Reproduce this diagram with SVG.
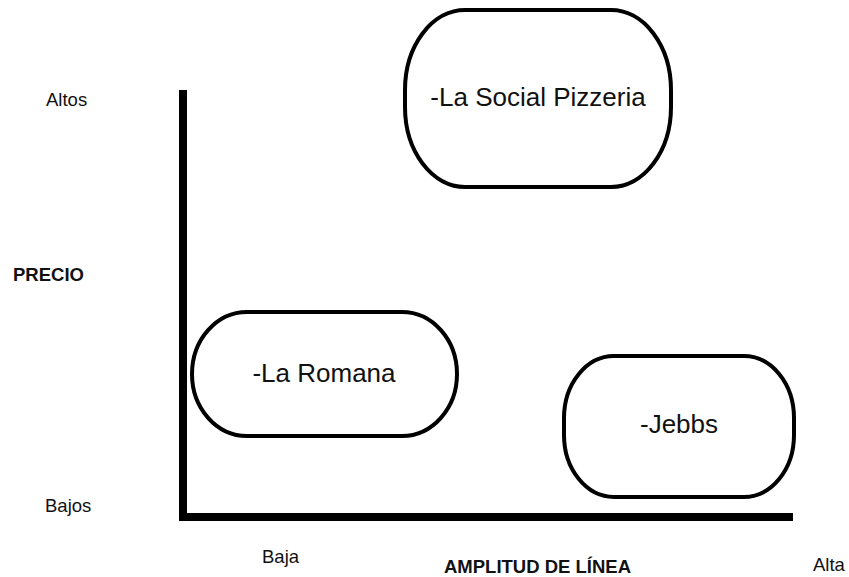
<svg xmlns="http://www.w3.org/2000/svg" width="849" height="577" viewBox="0 0 849 577">
<style>
.node{fill:#fff;stroke:#000;stroke-width:4}
.big{font-family:"Liberation Sans",Arial,sans-serif;font-size:26px;fill:#111;text-anchor:middle}
.lbl{font-family:"Liberation Sans",Arial,sans-serif;font-size:18.5px;fill:#111}
.bold{font-weight:bold}
.axis{fill:#000}
</style>
<rect width="849" height="577" fill="#fff"/>
<g id="axes">
<rect class="axis" x="179" y="90" width="8" height="431"/>
<rect class="axis" x="179" y="513" width="614" height="8"/>
</g>
<g id="social">
<rect class="node" x="405" y="10" width="266" height="177" rx="60" ry="80"/>
<text class="big" x="538" y="106">-La Social Pizzeria</text>
</g>
<g id="romana">
<rect class="node" x="192" y="312" width="265" height="124" rx="55" ry="62"/>
<text class="big" x="324" y="382">-La Romana</text>
</g>
<g id="jebbs">
<rect class="node" x="564" y="356" width="230" height="141" rx="50" ry="62"/>
<text class="big" x="679" y="433">-Jebbs</text>
</g>
<g id="labels">
<text class="lbl" x="46" y="106">Altos</text>
<text class="lbl bold" x="13" y="281">PRECIO</text>
<text class="lbl" x="45" y="512">Bajos</text>
<text class="lbl" x="262" y="563">Baja</text>
<text class="lbl bold" x="444" y="573">AMPLITUD DE LÍNEA</text>
<text class="lbl" x="813" y="571">Alta</text>
</g>
</svg>
